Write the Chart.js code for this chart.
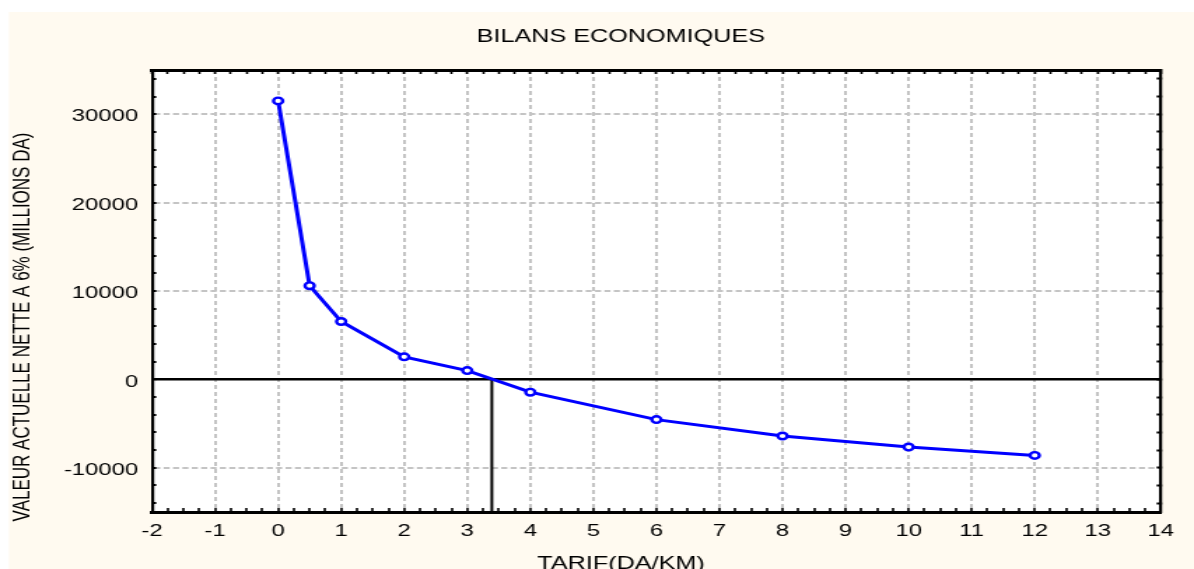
<!DOCTYPE html>
<html>
<head>
<meta charset="utf-8">
<script src="https://cdn.jsdelivr.net/npm/chart.js@4/dist/chart.umd.min.js"></script>
<style>
html,body{margin:0;padding:0;background:#ffffff;overflow:hidden}
#c{display:block;width:1194px !important;height:569px !important}
</style>
</head>
<body>
<canvas id="c" width="853" height="569" style="width:1194px;height:569px;display:block"></canvas>
<script>
// ---- texts ----
const chartTitle = 'BILANS ECONOMIQUES';
const xTitle = 'TARIF(DA/KM)';
const yTitle = 'VALEUR ACTUELLE NETTE A 6% (MILLIONS DA)';

// ---- data ----
const tarif = [0, 0.5, 1, 2, 3, 4, 6, 8, 10, 12];
const van = [31500, 10600, 6550, 2550, 1000, -1450, -4550, -6400, -7650, -8600];
const breakEvenX = [3.39, 3.39];
const breakEvenY = [0, -15000];

// ---- axes / tick labels ----
const xMin = -2, xMax = 14;
const yMin = -15000, yMax = 35000;
const xTickLabels = [-2, -1, 0, 1, 2, 3, 4, 5, 6, 7, 8, 9, 10, 11, 12, 13, 14];
const yTickLabels = [-10000, 0, 10000, 20000, 30000];
const xMinorStep = 0.25;
const yMinorStep = 2000;
const xTickValues = [];
for (let i = 0; i <= Math.round((xMax - xMin) / xMinorStep); i++) xTickValues.push(xMin + i * xMinorStep);
const yTickValues = [];
for (let v = -14000; v <= 34000; v += yMinorStep) yTickValues.push(v);

const FONT = "'Liberation Sans', Arial, Helvetica, sans-serif";
const GRID = '#c4c4c4';
const NONE = 'rgba(0,0,0,0)';

const bgPlugin = {
  id: 'bg',
  beforeDraw(chart) {
    const {ctx, width, height, chartArea: a} = chart;
    ctx.save();
    ctx.fillStyle = '#ffffff';
    ctx.fillRect(0, 0, width, height);
    ctx.fillStyle = '#fffaf0';
    ctx.fillRect(6.4, 12, width - 6.4, height - 12);
    ctx.fillStyle = '#ffffff';
    ctx.fillRect(a.left, a.top, a.right - a.left, a.bottom - a.top);
    ctx.restore();
  }
};

const isMajorX = v => Number.isInteger(v) && v > xMin && v < xMax;
const tickVal = c => (c && c.tick) ? c.tick.value : null;

new Chart(document.getElementById('c'), {
  type: 'line',
  data: {
    datasets: [
      {
        label: 'VAN',
        xAxisID: 'x', yAxisID: 'y',
        data: tarif.map((x, i) => ({x: x, y: van[i]})),
        borderColor: '#0000ff',
        borderWidth: 3,
        pointRadius: 3.3,
        pointBorderWidth: 2.4,
        pointBackgroundColor: '#ffffff',
        pointBorderColor: '#0000ff',
        tension: 0,
        order: 0
      },
      {
        label: 'seuil',
        xAxisID: 'x', yAxisID: 'y',
        data: breakEvenX.map((x, i) => ({x: x, y: breakEvenY[i]})),
        borderColor: '#000000',
        borderWidth: 2,
        pointRadius: 0,
        tension: 0,
        order: 1
      }
    ]
  },
  options: {
    responsive: false,
    animation: false,
    devicePixelRatio: 1,
    layout: {padding: {left: 0, right: -34.2, top: 42.5, bottom: -42.5}},
    plugins: {
      legend: {display: false},
      tooltip: {enabled: false},
      title: {
        display: true, text: chartTitle, color: '#000000',
        font: {family: FONT, size: 18, weight: 'normal'},
        padding: {top: -16.3, bottom: 22.2}
      },
      subtitle: {
        display: true, position: 'bottom', text: xTitle, color: '#000000',
        font: {family: FONT, size: 18, weight: 'normal'},
        padding: {top: 0, bottom: 36.3}
      }
    },
    scales: {
      x: {
        type: 'linear', position: 'bottom', min: xMin, max: xMax, weight: 0,
        afterBuildTicks: s => { s.ticks = xTickValues.map(v => ({value: v})); },
        afterFit: s => { s.height = 41.6; },
        ticks: {
          autoSkip: false, maxRotation: 0, minRotation: 0, padding: 13.5,
          color: '#000000', font: {family: FONT, size: 17},
          callback: v => xTickLabels.includes(v) ? String(v) : ''
        },
        grid: {
          drawOnChartArea: true, drawTicks: true, tickLength: -4, tickWidth: 1.6, tickColor: '#000000',
          lineWidth: 2,
          color: c => { const v = tickVal(c); return (v !== null && isMajorX(v)) ? GRID : NONE; }
        },
        border: {display: true, color: '#000000', width: 3, dash: [4, 3]}
      },
      x2: {
        type: 'linear', position: 'top', min: xMin, max: xMax, weight: 0,
        afterBuildTicks: s => { s.ticks = xTickValues.map(v => ({value: v})); },
        afterFit: s => { s.height = 0; },
        ticks: {display: false},
        grid: {drawOnChartArea: false, drawTicks: true, tickLength: -4, tickWidth: 1.6, tickColor: '#000000'},
        border: {display: true, color: '#000000', width: 3}
      },
      yt: {
        type: 'linear', position: 'left', fullSize: true, weight: 10,
        afterFit: s => { s.width = 30; },
        ticks: {display: false},
        grid: {display: false, drawTicks: false},
        border: {display: false},
        title: {
          display: true, text: yTitle, color: '#000000',
          font: {family: FONT, size: 17, weight: 'normal'},
          padding: {top: 6, bottom: 0}
        }
      },
      y: {
        type: 'linear', position: 'left', min: yMin, max: yMax, weight: 0,
        afterBuildTicks: s => { s.ticks = yTickValues.map(v => ({value: v})); },
        afterFit: s => { s.width = 78.6; },
        ticks: {
          autoSkip: false, padding: 13, labelOffset: 2.5,
          color: '#000000', font: {family: FONT, size: 17},
          callback: v => yTickLabels.includes(v) ? String(v) : ''
        },
        grid: {
          drawOnChartArea: true, drawTicks: true, tickLength: -3, tickWidth: 2, tickColor: '#000000',
          lineWidth: c => (tickVal(c) === 0) ? 2.5 : 2,
          color: c => { const v = tickVal(c); if (v === 0) return '#000000'; return (v !== null && v % 10000 === 0) ? GRID : NONE; }
        },
        border: {
          display: true, color: '#000000', width: 2.2,
          dash: c => (tickVal(c) === 0) ? [] : [4.3, 2.4]
        }
      },
      y2: {
        type: 'linear', position: 'right', min: yMin, max: yMax, weight: 0,
        afterBuildTicks: s => { s.ticks = yTickValues.map(v => ({value: v})); },
        afterFit: s => { s.width = 57.9; },
        ticks: {display: false},
        grid: {drawOnChartArea: false, drawTicks: true, tickLength: -3, tickWidth: 2, tickColor: '#000000'},
        border: {display: true, color: '#000000', width: 2.2}
      }
    }
  },
  plugins: [bgPlugin]
});
</script>
</body>
</html>
